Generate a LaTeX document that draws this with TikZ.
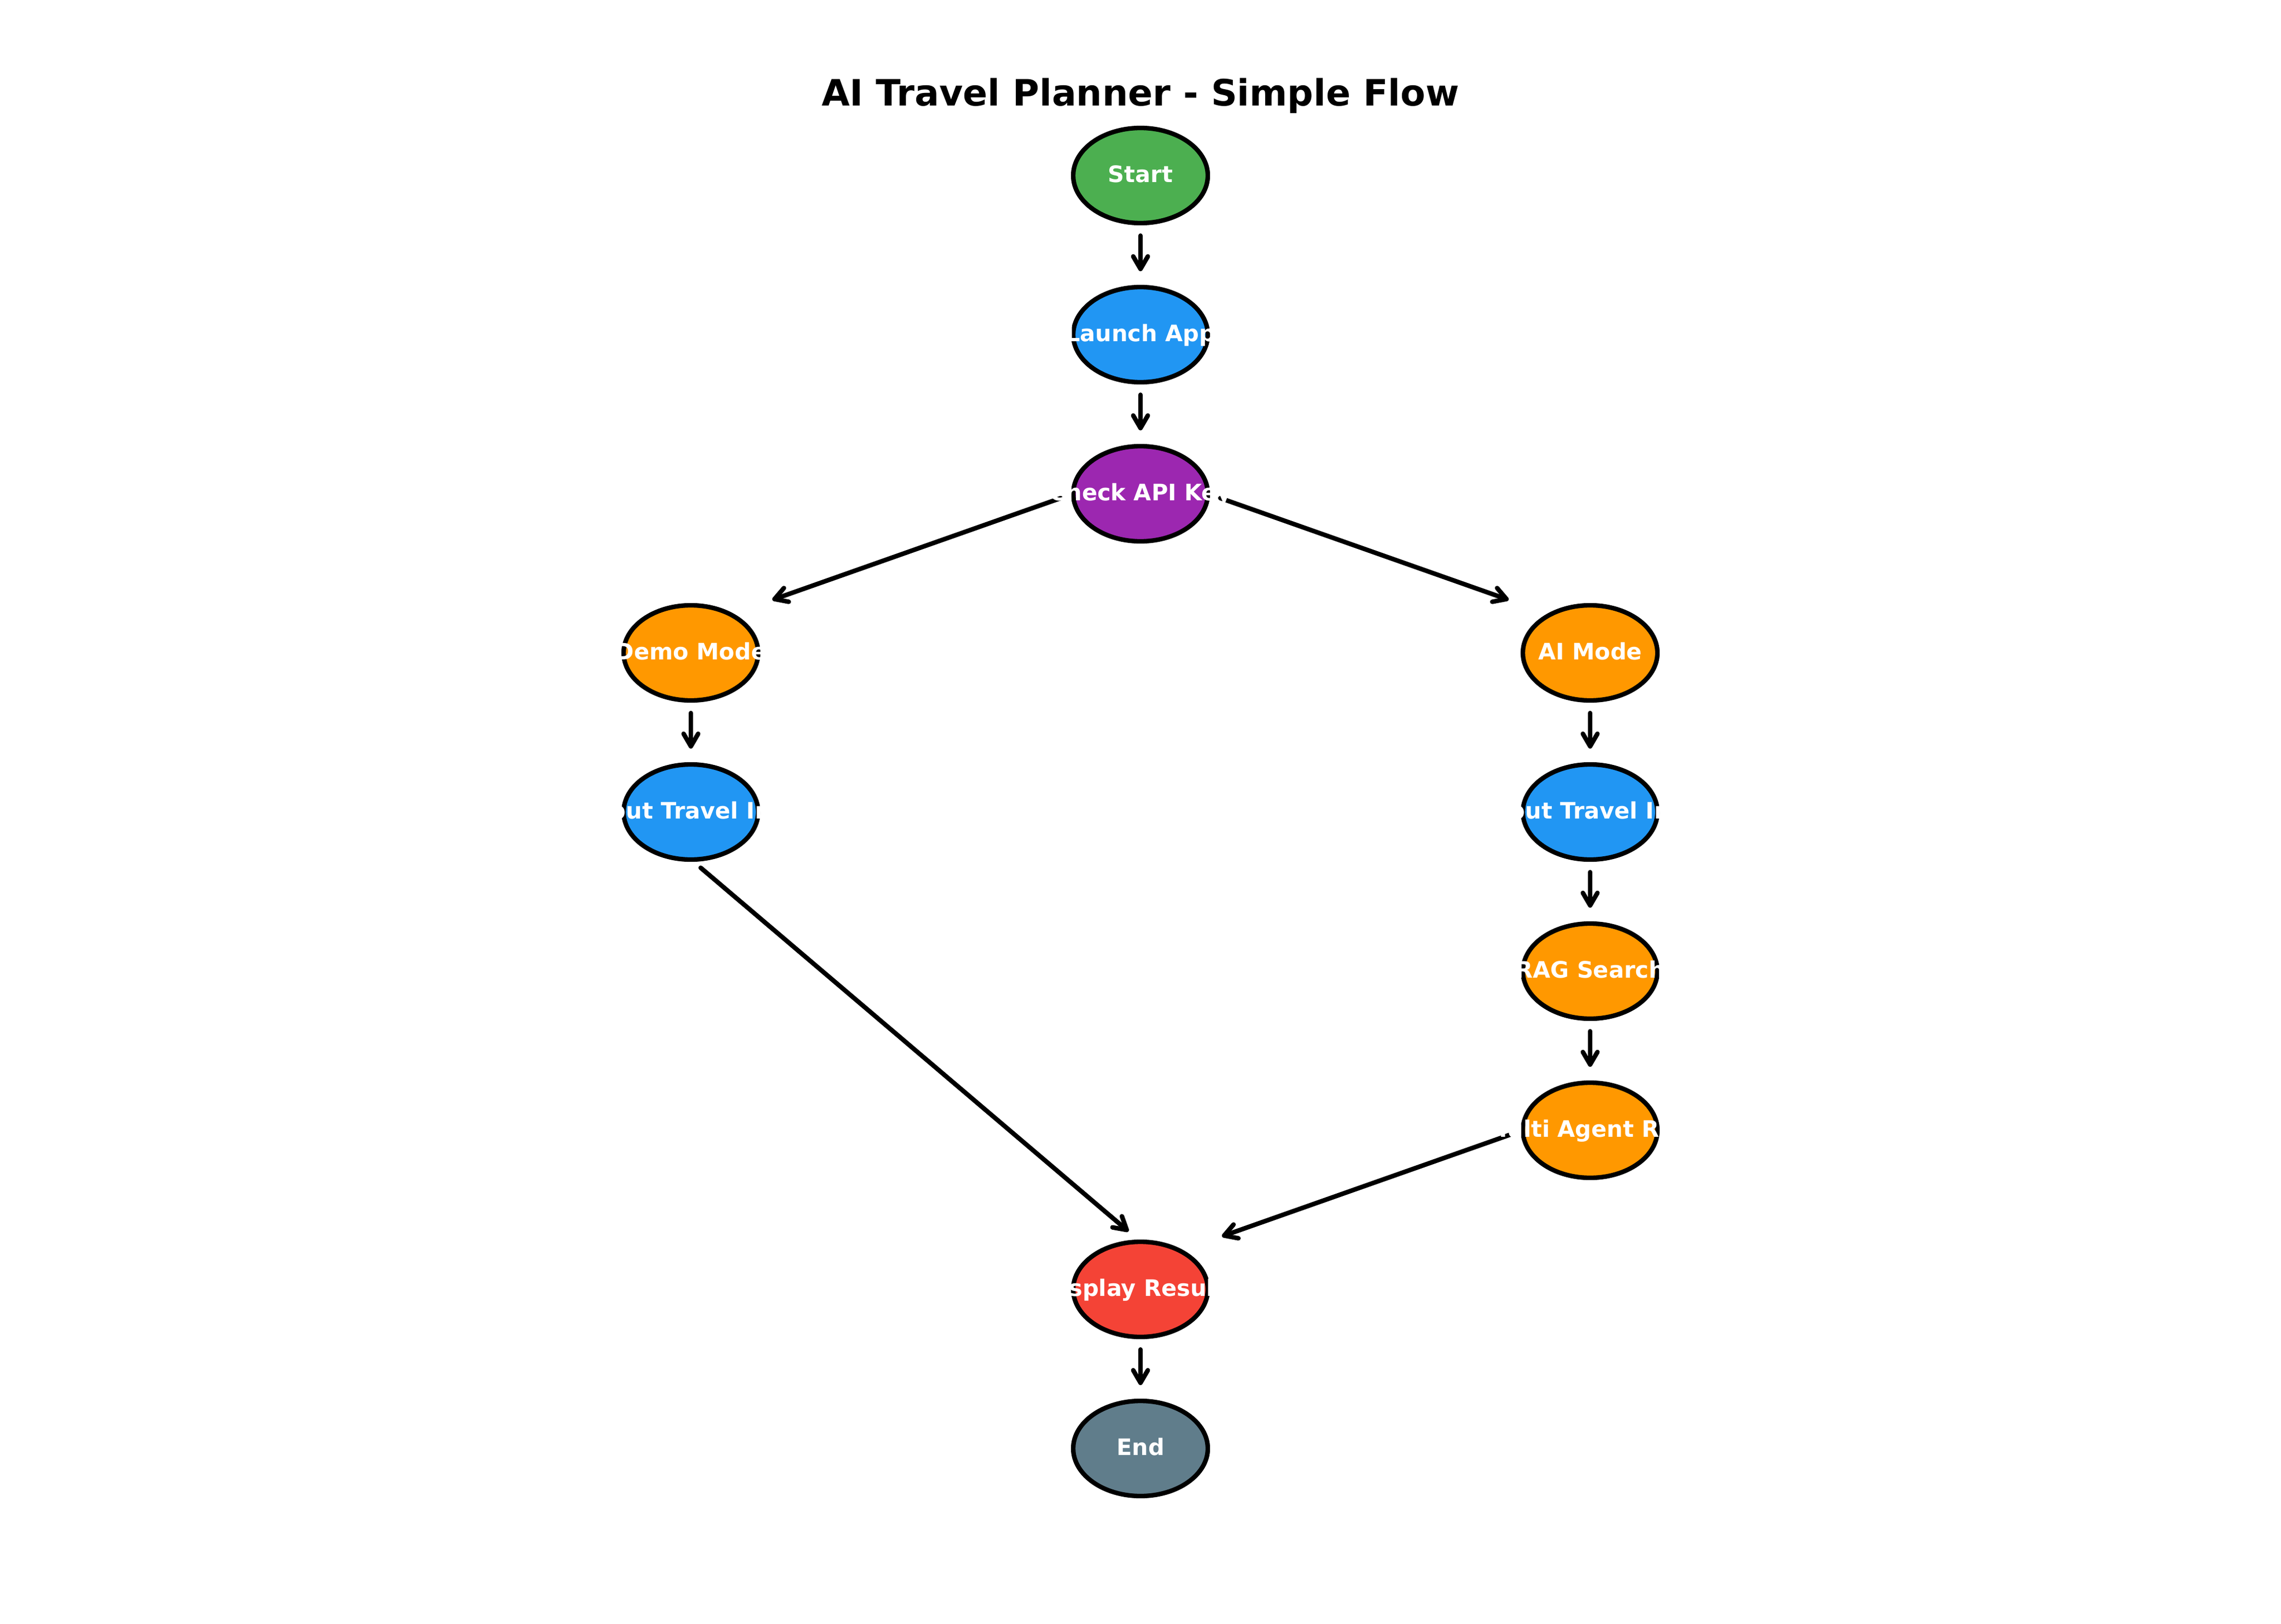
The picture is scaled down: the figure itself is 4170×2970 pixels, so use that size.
\documentclass[tikz,border=0pt]{standalone}
\usepackage{fontspec}
\setmainfont{DejaVu Sans}
\usetikzlibrary{shapes.geometric,arrows.meta,calc,backgrounds}
\definecolor{cgreen}{HTML}{4CAF50}
\definecolor{cblue}{HTML}{2196F3}
\definecolor{cpurple}{HTML}{9C27B0}
\definecolor{corange}{HTML}{FF9800}
\definecolor{cred}{HTML}{F44336}
\definecolor{cgrey}{HTML}{607D8B}
\begin{document}
\begin{tikzpicture}[x=0.24bp,y=-0.24bp,
  flow/.style={ellipse, draw=black, line width=2pt, minimum width=59.04bp, minimum height=41.76bp,
    inner sep=0pt, outer sep=0pt, text=white, font=\fontsize{10pt}{12pt}\selectfont\bfseries,
    text height=6.2bp, text depth=0pt},
  arr/.style={line width=2pt, line cap=round, -{Straight Barb[round,length=5.5bp,width=6.4bp]}},
  titlestyle/.style={font=\fontsize{16pt}{19pt}\selectfont\bfseries, anchor=base, inner sep=0pt}]
\useasboundingbox (0,0) rectangle (4170,2970);
\node[titlestyle] (title) at (2085,194) {AI Travel Planner - Simple Flow};
\node[flow, fill=cgreen]  (start)  at (2085,321)  {\makebox[0pt]{Start}};
\node[flow, fill=cblue]   (launch) at (2085,612)  {\makebox[0pt]{Launch App}};
\node[flow, fill=cpurple] (check)  at (2085,903)  {\makebox[0pt]{Check API Key}};
\node[flow, fill=corange] (demo)   at (1263,1194) {\makebox[0pt]{Demo Mode}};
\node[flow, fill=corange] (ai)     at (2907,1194) {\makebox[0pt]{AI Mode}};
\node[flow, fill=cblue]   (inl)    at (1263,1485) {\makebox[0pt]{Input Travel Info}};
\node[flow, fill=cblue]   (inr)    at (2907,1485) {\makebox[0pt]{Input Travel Info}};
\node[flow, fill=corange] (rag)    at (2907,1776) {\makebox[0pt]{RAG Search}};
\node[flow, fill=corange] (multi)  at (2907,2067) {\makebox[0pt]{Multi Agent RAG}};
\node[flow, fill=cred]    (disp)   at (2085,2358) {\makebox[0pt]{Display Results}};
\node[flow, fill=cgrey]   (end)    at (2085,2649) {\makebox[0pt]{End}};
\begin{pgfonlayer}{background}
\fill[white] (0,0) rectangle (4170,2970);
\draw[arr] ($(start.center)+(0,110)$) -- ($(launch.center)+(0,-116)$);
\draw[arr] ($(launch.center)+(0,110)$) -- ($(check.center)+(0,-116)$);
\draw[arr] ($(check.center)+(-146,8)$) -- ($(demo.center)+(149,-97)$);
\draw[arr] ($(check.center)+(146,8)$) -- ($(ai.center)+(-149,-97)$);
\draw[arr] ($(demo.center)+(0,110)$) -- ($(inl.center)+(0,-116)$);
\draw[arr] ($(ai.center)+(0,110)$) -- ($(inr.center)+(0,-116)$);
\draw[arr] ($(inr.center)+(0,110)$) -- ($(rag.center)+(0,-116)$);
\draw[arr] ($(rag.center)+(0,110)$) -- ($(multi.center)+(0,-116)$);
\draw[arr] ($(inl.center)+(18,102)$) -- ($(disp.center)+(-22,-106)$);
\draw[arr] ($(multi.center)+(-146,8)$) -- ($(disp.center)+(149,-97)$);
\draw[arr] ($(disp.center)+(0,110)$) -- ($(end.center)+(0,-116)$);
\end{pgfonlayer}
\end{tikzpicture}
\end{document}
